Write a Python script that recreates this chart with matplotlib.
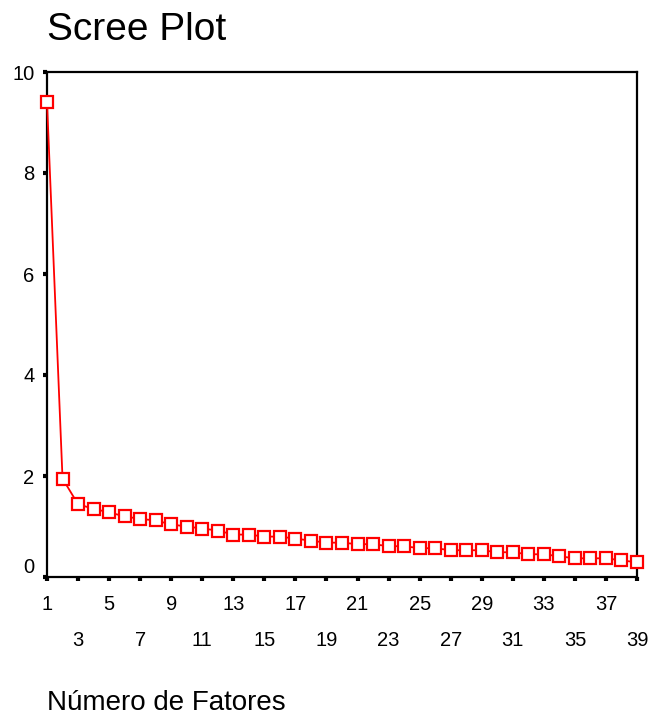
import matplotlib
matplotlib.use("Agg")
import matplotlib.pyplot as plt

plt.rcParams['font.family'] = ['Liberation Sans', 'DejaVu Sans']

factors = list(range(1, 40))
eigenvalues = [9.41, 1.95, 1.44, 1.35, 1.28, 1.20, 1.15, 1.12, 1.04, 1.00,
               0.96, 0.92, 0.84, 0.84, 0.80, 0.80, 0.76, 0.72, 0.68, 0.68,
               0.65, 0.65, 0.61, 0.61, 0.57, 0.57, 0.53, 0.53, 0.53, 0.49,
               0.49, 0.45, 0.45, 0.41, 0.37, 0.37, 0.37, 0.33, 0.29]
row1_ticks = list(range(1, 39, 4))   # 1,5,...,37
row2_ticks = list(range(3, 40, 4))   # 3,7,...,39
y_ticks = [0, 2, 4, 6, 8, 10]

title = "Scree Plot"
xlabel = "Número de Fatores"

W, H = 651, 715
fig = plt.figure(figsize=(W / 100, H / 100), dpi=100)
ax = fig.add_axes([47 / W, 1 - 577 / H, (637 - 47) / W, (577 - 72) / H])

ax.plot(factors, eigenvalues, color='#ff0000', lw=1.3, marker='s',
        markersize=9.2, markerfacecolor='white', markeredgecolor='#ff0000',
        markeredgewidth=1.6, clip_on=False, zorder=5)

ax.set_xlim(1, 39)
ax.set_ylim(0, 10)

for s in ax.spines.values():
    s.set_linewidth(1.6)
    s.set_color('black')

ax.set_xticks(row1_ticks)
ax.set_xticklabels([str(t) for t in row1_ticks])
ax.set_xticks(row2_ticks, minor=True)
ax.set_xticklabels([str(t) for t in row2_ticks], minor=True)
ax.set_yticks(y_ticks)
ax.set_yticklabels([str(t) for t in y_ticks])

ax.tick_params(axis='x', which='major', direction='out', length=3, width=3,
               pad=10, labelsize=14.5)
ax.tick_params(axis='x', which='minor', direction='out', length=3, width=3,
               pad=36, labelsize=14.5)
ax.tick_params(axis='y', which='major', direction='out', length=3, width=3,
               pad=6, labelsize=14.5)

for lab in ax.get_yticklabels():
    if lab.get_text() == '0':
        lab.set_va('bottom')

fig.text(47 / W, 1 - 40 / H, title, fontsize=28, ha='left', va='baseline')
fig.text(47 / W, 1 - 710 / H, xlabel, fontsize=20, ha='left', va='baseline')

fig.savefig('out.png', dpi=100)
